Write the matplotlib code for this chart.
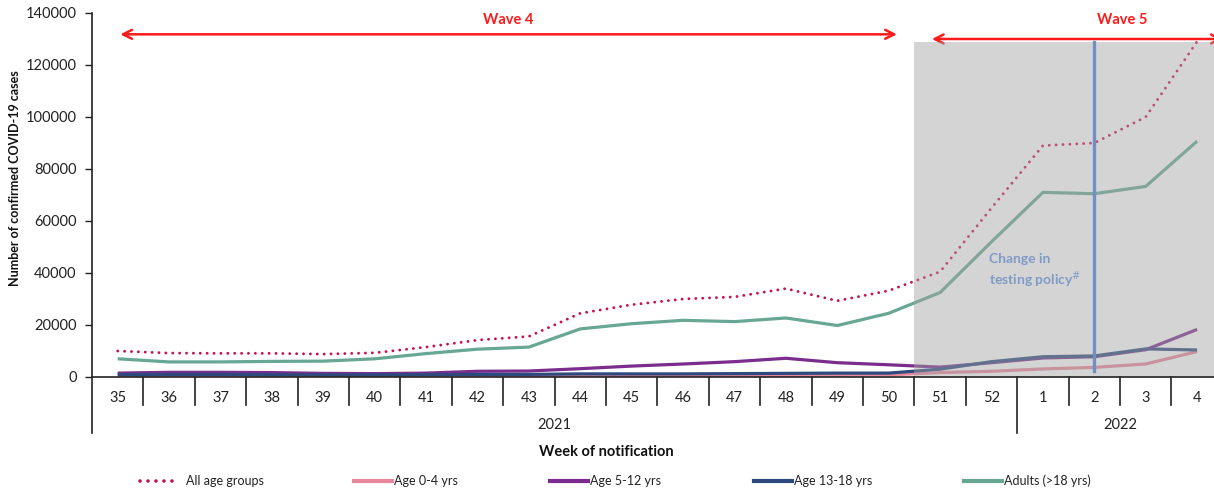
import matplotlib
matplotlib.use("Agg")
import matplotlib.pyplot as plt
from matplotlib.lines import Line2D
import numpy as np

plt.rcParams["font.family"] = ["Lato", "DejaVu Sans"]

weeks = ["35", "36", "37", "38", "39", "40", "41", "42", "43", "44", "45",
         "46", "47", "48", "49", "50", "51", "52", "1", "2", "3", "4"]
all_ages = [10000, 9200, 9100, 9100, 8800, 9300, 11500, 14200, 15600, 24500, 27800,
            30000, 30800, 34000, 29300, 33200, 40500, 65000, 89000, 90000, 100000, 129000]
age_0_4 = [300, 400, 400, 400, 300, 300, 300, 400, 400, 500, 500,
           600, 600, 600, 700, 800, 1700, 2200, 3100, 3700, 5000, 9800]
age_5_12 = [1500, 1800, 1800, 1700, 1400, 1300, 1500, 2200, 2300, 3200, 4200,
            5000, 5900, 7200, 5500, 4700, 3800, 5500, 7300, 7800, 10500, 18300]
age_13_18 = [900, 1000, 1000, 900, 800, 800, 900, 1000, 1000, 1200, 1200,
             1200, 1300, 1400, 1500, 1500, 3000, 5900, 7800, 8100, 10800, 10400]
adults = [7000, 5800, 5800, 6000, 6100, 7000, 9000, 10700, 11500, 18500, 20500,
          21800, 21300, 22700, 19800, 24500, 32500, 52000, 71000, 70500, 73300, 90700]

years = ["2021", "2022"]
year_spans = [(0, 17), (18, 21)]   # first/last week index in each year

wave_labels = ["Wave 4", "Wave 5"]
wave_spans = [(0.05, 15.16), (15.84, 21.5)]
wave_y = [131800, 130000]

shade_start = 15.5
shade_top = 129000
policy_week = 19
policy_range = (2500, 129000)

series = [
    ("Age 0-4 yrs", age_0_4, "#e8869c", "-"),
    ("Age 5-12 yrs", age_5_12, "#7a2d8c", "-"),
    ("Age 13-18 yrs", age_13_18, "#2c4a7e", "-"),
    ("Adults (>18 yrs)", adults, "#67a794", "-"),
    ("All age groups", all_ages, "#c8104a", "dots"),
]
legend_order = ["All age groups", "Age 0-4 yrs", "Age 5-12 yrs", "Age 13-18 yrs", "Adults (>18 yrs)"]

W, H = 1214, 493
fig = plt.figure(figsize=(W / 100, H / 100), dpi=100)
ax = fig.add_axes([92 / W, 1 - 377 / H, (W - 92) / W, (377 - 13) / H])

x = np.arange(len(weeks))
for name, vals, col, ls in series:
    if ls == "dots":
        ax.plot(x, vals, color=col, lw=2.1, linestyle=(0, (0.01, 2.35)),
                dash_capstyle="round", zorder=3)
    else:
        ax.plot(x, vals, color=col, lw=2.3, solid_capstyle="butt", zorder=3)

ax.set_xlim(-0.5, (W - 92) / 51.4 - 0.5)
ax.set_ylim(0, 140000)

# grey shaded period drawn semi transparent over the lines
ax.axvspan(shade_start, 23, ymin=0, ymax=shade_top / 140000, color="#a3a3a3",
           alpha=0.46, lw=0, zorder=4)
ax.plot([policy_week, policy_week], policy_range, color="#6f90c0", lw=2.4, zorder=5)
ax.text(16.95, 40500, "Change in\ntesting policy$^{\\#}$", color="#7f9bc6",
        fontsize=10, fontweight="bold", va="center", ha="left", zorder=6,
        linespacing=1.3)

for lab, (a, b), yy in zip(wave_labels, wave_spans, wave_y):
    ax.annotate("", xy=(a, yy), xytext=(b, yy), annotation_clip=False,
                arrowprops=dict(arrowstyle="<->", color="#ff1a1a", lw=1.8,
                                mutation_scale=16, shrinkA=0, shrinkB=0))
    ax.text((a + b) / 2 if lab == "Wave 4" else 19.55, 137400, lab, color="#ff1a1a",
            fontsize=10.5, fontweight="bold", ha="center", va="center")

for s in ["top", "right", "left", "bottom"]:
    ax.spines[s].set_visible(False)

ax.set_yticks(np.arange(0, 140001, 20000))
ax.tick_params(axis="y", length=5, width=1, pad=6, labelsize=10.5, colors="#222222")
ax.set_xticks(x)
ax.set_xticklabels(weeks)
ax.tick_params(axis="x", length=0, pad=10, labelsize=10.5, colors="#222222")

tr = ax.get_xaxis_transform()
axis_h = 377 - 13
ax.plot([-0.5, -0.5], [1, -56 / axis_h], transform=tr, color="#222222", lw=1.2, clip_on=False)
ax.plot([-0.5, 23], [0, 0], transform=tr, color="#222222", lw=1.2, clip_on=False, zorder=6)
for i in range(1, len(weeks)):
    depth = -56 if i == year_spans[1][0] else -28
    ax.plot([i - 0.5, i - 0.5], [0, depth / axis_h], transform=tr, color="#222222",
            lw=1.2, clip_on=False)

for yr, (a, b) in zip(years, year_spans):
    ax.text((a + b) / 2, -48 / axis_h, yr, transform=tr, ha="center", va="center",
            fontsize=10.5, color="#222222")

ax.text(9.5, -75 / axis_h, "Week of notification", transform=tr, ha="center",
        va="center", fontsize=10.5, fontweight="bold", color="#111111")
fig.text(15 / W, 1 - 178 / H, "Number of confirmed COVID-19 cases", rotation=90,
         ha="center", va="center", fontsize=9, fontweight="bold", color="#111111")

# legend row
style = {name: (col, ls) for name, _, col, ls in series}
leg_x = [140, 354, 550, 754, 964]
ly = 1 - 481 / H
for name, px in zip(legend_order, leg_x):
    col, ls = style[name]
    if ls == "dots":
        h = Line2D([px / W, (px + 36) / W], [ly, ly], color=col, lw=2.6,
                   linestyle=(0, (0.01, 2.2)), dash_capstyle="round")
    else:
        h = Line2D([px / W, (px + 38) / W], [ly, ly], color=col, lw=3)
    fig.add_artist(h)
    fig.text((px + 40 + (6 if ls == "dots" else 0)) / W, ly, name,
             ha="left", va="center", fontsize=9, color="#222222")

fig.savefig("out.png", dpi=100)
